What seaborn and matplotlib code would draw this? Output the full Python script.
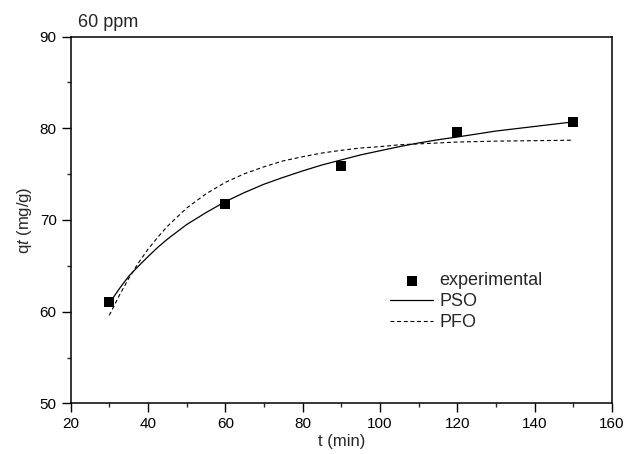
import matplotlib
matplotlib.use("Agg")
import matplotlib.pyplot as plt
import seaborn as sns
import pandas as pd
from matplotlib.ticker import MultipleLocator

# experimental data
t_exp = [30, 60, 90, 120, 150]
q_exp = [61.1, 71.7, 75.9, 79.55, 80.65]

# fitted curves
t_fit = [30, 32.5, 35, 37.5, 40, 42.5, 45, 50, 55, 60, 65, 70, 75, 80, 85, 90, 95, 100,
         105, 110, 115, 120, 130, 140, 150]
q_pso = [60.9, 62.45, 63.85, 64.95, 66.0, 67.0, 67.9, 69.5, 70.8, 72.0, 73.0, 73.9, 74.65,
         75.35, 76.0, 76.55, 77.1, 77.55, 78.0, 78.4, 78.75, 79.05, 79.7, 80.2, 80.7]
q_pfo = [59.6, 61.7, 63.6, 65.3, 66.8, 68.1, 69.3, 71.3, 72.85, 74.1, 75.05, 75.8, 76.45,
         76.9, 77.3, 77.6, 77.85, 78.0, 78.2, 78.3, 78.4, 78.5, 78.6, 78.65, 78.7]

title_text = "60 ppm"

sns.set_style("ticks")
plt.rcParams['font.family'] = ['Liberation Sans', 'DejaVu Sans']
plt.rcParams['mathtext.fontset'] = 'custom'
plt.rcParams['mathtext.rm'] = 'Liberation Sans'
plt.rcParams['mathtext.it'] = 'Liberation Sans:italic'

fig = plt.figure(figsize=(6.26, 4.54), dpi=100)
ax = fig.add_axes([0.1128, 0.1115, 0.9776 - 0.1128, 0.9194 - 0.1115])

df_exp = pd.DataFrame({"t": t_exp, "q": q_exp})
df_fit = pd.DataFrame({"t": t_fit, "PSO": q_pso, "PFO": q_pfo})

sns.scatterplot(data=df_exp, x="t", y="q", ax=ax, marker="s", s=50, color="black",
                edgecolor="black", linewidth=0, label="experimental", zorder=3)
sns.lineplot(data=df_fit, x="t", y="PSO", ax=ax, color="black", linewidth=0.9, label="PSO")
sns.lineplot(data=df_fit, x="t", y="PFO", ax=ax, color="black", linewidth=0.8,
             linestyle=(0, (3.5, 2.5)), label="PFO")

ax.set_xlim(20, 160)
ax.set_ylim(50, 90)
ax.xaxis.set_major_locator(MultipleLocator(20))
ax.xaxis.set_minor_locator(MultipleLocator(10))
ax.yaxis.set_major_locator(MultipleLocator(10))
ax.yaxis.set_minor_locator(MultipleLocator(5))
ax.tick_params(which="major", direction="out", length=6.5, width=1, labelsize=11, colors="black")
ax.tick_params(which="minor", direction="out", length=3, width=1)
for s in ax.spines.values():
    s.set_visible(True)
    s.set_linewidth(1.1)
    s.set_color("black")

ax.set_xlabel("t (min)", fontsize=12, labelpad=2)
ax.set_ylabel("q$t$ (mg/g)", fontsize=12)

ax.text(0.014, 1.025, title_text, transform=ax.transAxes, fontsize=13, va="baseline", ha="left")

ax.legend(loc="upper left", bbox_to_anchor=(0.59, 0.357), frameon=False, fontsize=13,
          borderpad=0, borderaxespad=0, handlelength=2.4, handletextpad=0.35, labelspacing=0.22)

fig.savefig("out.png", dpi=100)
